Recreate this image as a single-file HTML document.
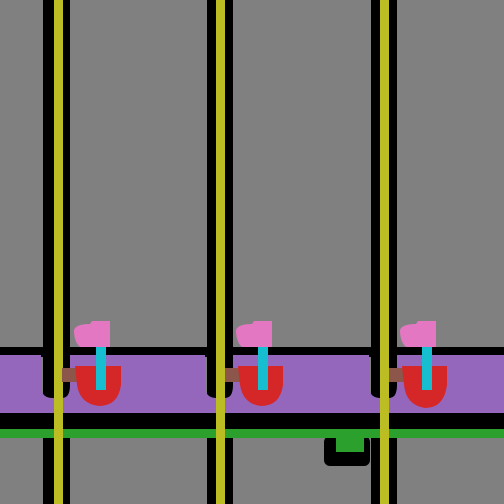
<!DOCTYPE html>
<html><head><meta charset="utf-8"><style>
html,body{margin:0;padding:0;background:#808080;}
svg{display:block}
</style></head><body>
<svg width="504" height="504" viewBox="0 0 504 504">
<rect x="0" y="0" width="504" height="504" fill="#808080"/>
<rect x="43" y="0" width="27" height="504" fill="#000"/>
<rect x="207" y="0" width="26" height="504" fill="#000"/>
<rect x="371" y="0" width="26" height="504" fill="#000"/>
<rect x="0" y="347" width="504" height="10" fill="#000"/>
<path d="M0 355 H504 V414 H0 Z M41 355 V385 Q41 398 52 398 H62 Q70 398 70 385 V355 Z M205 355 V385 Q205 398 216 398 H225 Q233 398 233 385 V355 Z M369 355 V385 Q369 398 380 398 H389 Q397 398 397 385 V355 Z" fill-rule="evenodd" fill="#9467bd"/>
<rect x="0" y="413" width="504" height="17" fill="#000"/>
<rect x="324" y="436" width="46" height="30" rx="6" fill="#000"/>
<rect x="336" y="436" width="28" height="16" fill="#2ca02c"/>
<rect x="0" y="429" width="504" height="9" fill="#2ca02c"/>
<rect x="54" y="0" width="9" height="504" fill="#bcbd22"/>
<rect x="216" y="0" width="9" height="504" fill="#bcbd22"/>
<rect x="380" y="0" width="9" height="504" fill="#bcbd22"/>
<g>
<rect x="62" y="368" width="16" height="14" fill="#8c564b"/>
<path d="M75 366 H121 V385 Q118 406 99 406 Q80 404 77 385 Z" fill="#d62728"/>
<rect x="96" y="345" width="10" height="45" fill="#17becf"/>
<path d="M74 330 Q76 324 90 324 L92 321 H110 V347 H80 Q74 342 74 330 Z" fill="#e377c2"/>
</g>
<g>
<rect x="225" y="368" width="16" height="14" fill="#8c564b"/>
<path d="M238 366 H283 V385 Q280 406 261 406 Q243 404 240 385 Z" fill="#d62728"/>
<rect x="258" y="345" width="10" height="45" fill="#17becf"/>
<path d="M236 330 Q238 324 252 324 L254 321 H272 V347 H242 Q236 342 236 330 Z" fill="#e377c2"/>
</g>
<g>
<rect x="389" y="368" width="16" height="14" fill="#8c564b"/>
<path d="M402 366 H447 V385 Q444 408 425 408 Q406 405 404 385 Z" fill="#d62728"/>
<rect x="422" y="345" width="10" height="45" fill="#17becf"/>
<path d="M400 330 Q402 324 416 324 L418 321 H436 V347 H406 Q400 342 400 330 Z" fill="#e377c2"/>
</g>
</svg>
</body></html>
